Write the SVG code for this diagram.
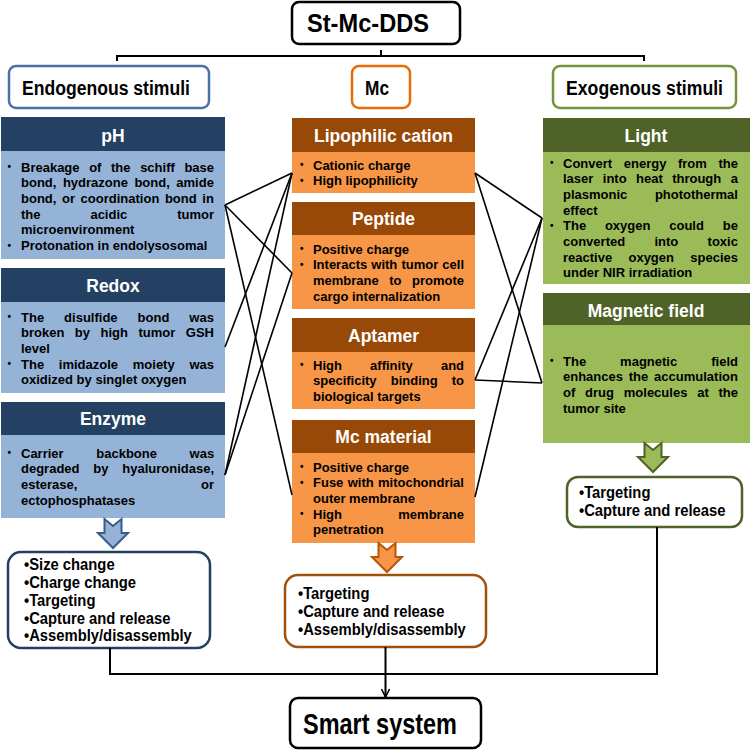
<svg xmlns="http://www.w3.org/2000/svg" width="750" height="750" viewBox="0 0 750 750">
<defs>
<style>
.hd{font:bold 17.5px "Liberation Sans",Arial,sans-serif;fill:#fff;text-anchor:middle}
.bt{font:bold 13px "Liberation Sans",Arial,sans-serif;fill:#000}
.bu{font:bold 10px "Liberation Sans",Arial,sans-serif;fill:#000}
.lb{font:bold 19.5px "Liberation Sans",Arial,sans-serif;fill:#000;text-anchor:middle}
.bx{font:bold 17px "Liberation Sans",Arial,sans-serif;fill:#000}
.bH{fill:#244062}.bB{fill:#95B3D7}
.oH{fill:#984807}.oB{fill:#F79646}
.gH{fill:#4F6228}.gB{fill:#9BBB59}
.cn{stroke:#000;stroke-width:1.6;fill:none}
</style>
<marker id="ah" viewBox="0 0 10 10" refX="9" refY="5" markerWidth="10" markerHeight="10" markerUnits="userSpaceOnUse" orient="auto">
<path d="M1,1 L9,5 L1,9" fill="none" stroke="#000" stroke-width="1.6"/>
</marker>
<path id="dn" d="M-8.5,0 L0,7 L8.5,0 L8.5,14 L15,14 L0,29 L-15,14 L-8.5,14 Z"/>
</defs>

<g id="root">
<rect x="292" y="2" width="168" height="42" rx="7" fill="#fff" stroke="#000" stroke-width="2.5"/>
<text x="368" y="32" style="font:bold 25px 'Liberation Sans',Arial,sans-serif" text-anchor="middle" textLength="122" lengthAdjust="spacingAndGlyphs">St-Mc-DDS</text>
</g>

<g id="bracket" class="cn">
<path d="M117,61 V56 H644 V61 M381,50 V56" stroke-width="2"/>
</g>

<g id="endogenous">
<rect x="9" y="66" width="200" height="42" rx="7" fill="#fff" stroke="#4A72A8" stroke-width="2.5"/>
<text class="lb" x="106" y="94.5" textLength="168" lengthAdjust="spacingAndGlyphs">Endogenous stimuli</text>
</g>
<g id="mc">
<rect x="352" y="66" width="58" height="42" rx="7" fill="#fff" stroke="#E46C0A" stroke-width="2.5"/>
<text class="lb" x="377" y="94.5" textLength="24" lengthAdjust="spacingAndGlyphs">Mc</text>
</g>
<g id="exogenous">
<rect x="553" y="66" width="183" height="42" rx="7" fill="#fff" stroke="#77933C" stroke-width="2.5"/>
<text class="lb" x="644.5" y="94.5" textLength="157" lengthAdjust="spacingAndGlyphs">Exogenous stimuli</text>
</g>

<!-- Left column -->
<g id="ph">
<rect class="bH" x="1" y="117" width="224" height="34"/>
<rect class="bB" x="1" y="151" width="224" height="108"/>
<text class="hd" x="113" y="141.5">pH</text>
<text class="bu" x="7.5" y="170">•</text>
<text class="bt" x="21" y="171.5" word-spacing="6.0">Breakage of the schiff base</text>
<text class="bt" x="21" y="187.2" word-spacing="2.9">bond, hydrazone bond, amide</text>
<text class="bt" x="21" y="202.9" word-spacing="2.0">bond, or coordination bond in</text>
<text class="bt" x="21" y="218.6" word-spacing="46.3">the acidic tumor</text>
<text class="bt" x="21" y="234.3">microenvironment</text>
<text class="bu" x="7.5" y="248.5">•</text>
<text class="bt" x="21" y="250">Protonation in endolysosomal</text>
</g>
<g id="redox">
<rect class="bH" x="1" y="268" width="224" height="34"/>
<rect class="bB" x="1" y="302" width="224" height="91"/>
<text class="hd" x="113" y="292">Redox</text>
<text class="bu" x="7.5" y="320">•</text>
<text class="bt" x="21" y="321.5" word-spacing="16.4">The disulfide bond was</text>
<text class="bt" x="21" y="337.2" word-spacing="6.9">broken by high tumor GSH</text>
<text class="bt" x="21" y="352.9">level</text>
<text class="bu" x="7.5" y="367">•</text>
<text class="bt" x="21" y="368.6" word-spacing="11.1">The imidazole moiety was</text>
<text class="bt" x="21" y="384.3">oxidized by singlet oxygen</text>
</g>
<g id="enzyme">
<rect class="bH" x="1" y="402" width="224" height="33"/>
<rect class="bB" x="1" y="435" width="224" height="83"/>
<text class="hd" x="113" y="425">Enzyme</text>
<text class="bu" x="7.5" y="456">•</text>
<text class="bt" x="21" y="457.5" word-spacing="29.0">Carrier backbone was</text>
<text class="bt" x="21" y="473.2" word-spacing="10.2">degraded by hyaluronidase,</text>
<text class="bt" x="21" y="488.9" word-spacing="120">esterase, or</text>
<text class="bt" x="21" y="504.6">ectophosphatases</text>
</g>

<!-- Middle column -->
<g id="lipophilic">
<rect class="oH" x="292" y="118" width="183" height="34"/>
<rect class="oB" x="292" y="152" width="183" height="41"/>
<text class="hd" x="383.5" y="141.5">Lipophilic cation</text>
<text class="bu" x="300" y="168">•</text>
<text class="bt" x="313" y="169.5">Cationic charge</text>
<text class="bu" x="300" y="183.5">•</text>
<text class="bt" x="313" y="185.2">High lipophilicity</text>
</g>
<g id="peptide">
<rect class="oH" x="292" y="202" width="183" height="33"/>
<rect class="oB" x="292" y="235" width="183" height="74"/>
<text class="hd" x="383.5" y="225">Peptide</text>
<text class="bu" x="300" y="252">•</text>
<text class="bt" x="313" y="253.5">Positive charge</text>
<text class="bu" x="300" y="267.5">•</text>
<text class="bt" x="313" y="269.2" word-spacing="0.5">Interacts with tumor cell</text>
<text class="bt" x="313" y="284.9" word-spacing="6.9">membrane to promote</text>
<text class="bt" x="313" y="300.6">cargo internalization</text>
</g>
<g id="aptamer">
<rect class="oH" x="292" y="318" width="183" height="34"/>
<rect class="oB" x="292" y="352" width="183" height="57"/>
<text class="hd" x="383.5" y="341.7">Aptamer</text>
<text class="bu" x="300" y="368">•</text>
<text class="bt" x="313" y="369.5" word-spacing="24.6">High affinity and</text>
<text class="bt" x="313" y="385.2" word-spacing="10.5">specificity binding to</text>
<text class="bt" x="313" y="400.9">biological targets</text>
</g>
<g id="mcmaterial">
<rect class="oH" x="292" y="420" width="183" height="33"/>
<rect class="oB" x="292" y="453" width="183" height="90"/>
<text class="hd" x="383.5" y="443">Mc material</text>
<text class="bu" x="300" y="470">•</text>
<text class="bt" x="313" y="471.5">Positive charge</text>
<text class="bu" x="300" y="485.5">•</text>
<text class="bt" x="313" y="487.2" word-spacing="0.7">Fuse with mitochondrial</text>
<text class="bt" x="313" y="502.9">outer membrane</text>
<text class="bu" x="300" y="517">•</text>
<text class="bt" x="313" y="518.6" word-spacing="52.8">High membrane</text>
<text class="bt" x="313" y="534.3">penetration</text>
</g>

<!-- Right column -->
<g id="light">
<rect class="gH" x="543" y="118" width="207" height="34"/>
<rect class="gB" x="543" y="152" width="207" height="132"/>
<text class="hd" x="646" y="141.5">Light</text>
<text class="bu" x="550" y="166">•</text>
<text class="bt" x="563" y="167.5" word-spacing="8.0">Convert energy from the</text>
<text class="bt" x="563" y="183.2" word-spacing="5.8">laser into heat through a</text>
<text class="bt" x="563" y="198.9" word-spacing="24.0">plasmonic photothermal</text>
<text class="bt" x="563" y="214.6">effect</text>
<text class="bu" x="550" y="228.8">•</text>
<text class="bt" x="563" y="230.3" word-spacing="15.2">The oxygen could be</text>
<text class="bt" x="563" y="246" word-spacing="25.7">converted into toxic</text>
<text class="bt" x="563" y="261.7" word-spacing="12.7">reactive oxygen species</text>
<text class="bt" x="563" y="277.4">under NIR irradiation</text>
</g>
<g id="magnetic">
<rect class="gH" x="543" y="293" width="207" height="32"/>
<rect class="gB" x="543" y="325" width="207" height="118"/>
<text class="hd" x="646" y="316.5">Magnetic field</text>
<text class="bu" x="550" y="364">•</text>
<text class="bt" x="563" y="365.5" word-spacing="30.4">The magnetic field</text>
<text class="bt" x="563" y="381.2" word-spacing="2.2">enhances the accumulation</text>
<text class="bt" x="563" y="396.9" word-spacing="6.2">of drug molecules at the</text>
<text class="bt" x="563" y="412.6">tumor site</text>
</g>

<!-- block arrows -->
<g id="arrow-endo"><use href="#dn" x="113" y="519" fill="#95B3D7" stroke="#385D8A" stroke-width="2"/></g>
<g id="arrow-mc"><use href="#dn" x="387" y="543" fill="#F79646" stroke="#B65708" stroke-width="2"/></g>
<g id="arrow-exo"><use href="#dn" x="653" y="443" fill="#9BBB59" stroke="#4F6228" stroke-width="2"/></g>

<!-- result boxes -->
<g id="endo-result">
<rect x="8" y="552" width="202" height="96" rx="13" fill="#fff" stroke="#243F60" stroke-width="2.5"/>
<g transform="translate(24,0) scale(0.87,1)">
<text class="bx" x="0" y="570.5">•Size change</text>
<text class="bx" x="0" y="588.2">•Charge change</text>
<text class="bx" x="0" y="605.9">•Targeting</text>
<text class="bx" x="0" y="623.6">•Capture and release</text>
<text class="bx" x="0" y="641.3">•Assembly/disassembly</text>
</g>
</g>
<g id="mc-result">
<rect x="285" y="575" width="201" height="72" rx="13" fill="#fff" stroke="#A0520C" stroke-width="2.5"/>
<g transform="translate(298,0) scale(0.87,1)">
<text class="bx" x="0" y="599.5">•Targeting</text>
<text class="bx" x="0" y="617.2">•Capture and release</text>
<text class="bx" x="0" y="634.9">•Assembly/disassembly</text>
</g>
</g>
<g id="exo-result">
<rect x="567" y="477" width="175" height="50" rx="11" fill="#fff" stroke="#4F6228" stroke-width="2.5"/>
<g transform="translate(579,0) scale(0.87,1)">
<text class="bx" x="0" y="498.5">•Targeting</text>
<text class="bx" x="0" y="516.2">•Capture and release</text>
</g>
</g>

<g id="smart">
<rect x="290" y="698" width="191" height="50" rx="8" fill="#fff" stroke="#000" stroke-width="2.5"/>
<text x="380" y="733.5" style="font:bold 30px 'Liberation Sans',Arial,sans-serif" text-anchor="middle" textLength="154" lengthAdjust="spacingAndGlyphs">Smart system</text>
</g>

<!-- connectors -->
<g id="connectors" class="cn">
<line x1="225" y1="205" x2="292" y2="173"/>
<line x1="225" y1="205" x2="292" y2="273"/>
<line x1="225" y1="205" x2="292" y2="495"/>
<line x1="225" y1="347" x2="292" y2="173"/>
<line x1="225" y1="475" x2="292" y2="173"/>
<line x1="225" y1="475" x2="292" y2="273"/>
<line x1="475" y1="173" x2="542" y2="218"/>
<line x1="475" y1="173" x2="542" y2="383"/>
<line x1="475" y1="380" x2="542" y2="218"/>
<line x1="475" y1="380" x2="542" y2="383"/>
<line x1="475" y1="497" x2="542" y2="218"/>
<path d="M110,648 V674 H657 V527" stroke-width="2"/>
<path d="M385.5,647 V697" stroke-width="2" marker-end="url(#ah)"/>
</g>
</svg>
